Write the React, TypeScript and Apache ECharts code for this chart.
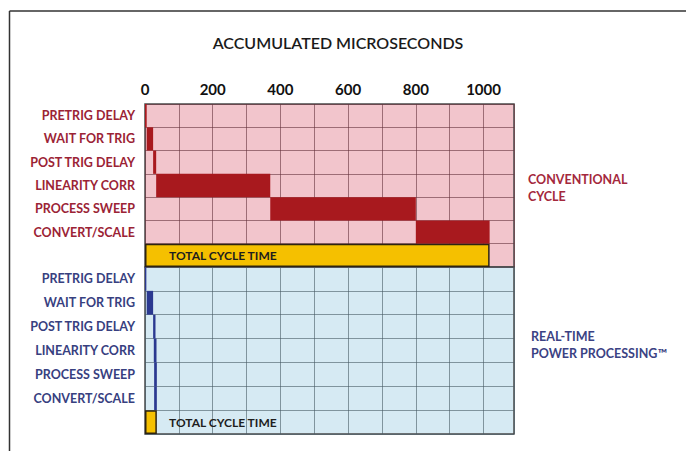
import React, { useEffect, useRef } from "react";
import * as echarts from "echarts";

const title = "ACCUMULATED MICROSECONDS";
const taskLabels = ["PRETRIG DELAY", "WAIT FOR TRIG", "POST TRIG DELAY", "LINEARITY CORR", "PROCESS SWEEP", "CONVERT/SCALE", ""];
const totalLabel = "TOTAL CYCLE TIME";
const xTicks = [0, 200, 400, 600, 800, 1000];
const xMax = 1090;
const xStep = 100;

// Conventional cycle: start / end in microseconds (last row = total)
const convStart = [0, 5, 24, 33, 370, 800, 0];
const convEnd = [5, 24, 33, 370, 800, 1018, 1018];
// Real-time power processing
const rtStart = [0, 5, 24, 26, 27, 27, 0];
const rtEnd = [4, 24, 31, 34, 35, 35, 35];

const convName = "CONVENTIONAL\nCYCLE";
const rtName = "REAL-TIME\nPOWER PROCESSING™";

const FONT = "Lato, 'Noto Sans', sans-serif";
const RED = "#a8191e";
const BLUE = "#2b3990";
const YELLOW = "#f5c000";

export default function App() {
  const ref = useRef<HTMLDivElement>(null);
  useEffect(() => {
    document.body.style.margin = "0";
    const chart = echarts.init(ref.current!, undefined, { renderer: "svg" });

    const mkBars = (starts: number[], ends: number[], color: string, idx: number, stack: string) => {
      const base = {
        type: "bar",
        xAxisIndex: idx,
        yAxisIndex: idx,
        stack,
        barCategoryGap: "0%",
        silent: true,
        itemStyle: { color: "transparent" },
        data: starts,
      };
      const vis = {
        type: "bar",
        xAxisIndex: idx,
        yAxisIndex: idx,
        stack,
        barCategoryGap: "0%",
        silent: true,
        data: ends.map((e, i) => {
          const isTotal = i === ends.length - 1;
          return {
            value: e - starts[i],
            itemStyle: isTotal
              ? { color: YELLOW, borderColor: "#2e2410", borderWidth: 1.5 }
              : { color },
            label: isTotal
              ? {
                  show: true,
                  formatter: totalLabel,
                  position: [24, "50%"],
                  verticalAlign: "middle",
                  align: "left",
                  color: "#1e1e1e",
                  fontFamily: FONT,
                  fontWeight: "bold",
                  fontSize: 12,
                }
              : { show: false },
          };
        }),
      };
      return [base, vis];
    };

    const xAxisBase = (idx: number, lineColor: string) => ({
      type: "value",
      gridIndex: idx,
      min: 0,
      max: xMax,
      interval: xStep,
      position: "top",
      axisLine: { show: false },
      axisTick: { show: false },
      splitLine: { show: true, lineStyle: { color: lineColor, width: 1 } },
      axisLabel:
        idx === 0
          ? {
              show: true,
              margin: 8,
              color: "#111",
              fontFamily: FONT,
              fontWeight: "bold",
              fontSize: 15,
              formatter: (v: number) => (xTicks.includes(v) ? String(v) : ""),
            }
          : { show: false },
    });

    const yAxisBase = (idx: number, labelColor: string, lineColor: string) => ({
      type: "category",
      gridIndex: idx,
      inverse: true,
      data: taskLabels,
      axisLine: { show: false },
      axisTick: { show: false },
      splitLine: { show: true, interval: 0, lineStyle: { color: lineColor, width: 1 } },
      axisLabel: {
        interval: 0,
        margin: 10,
        color: labelColor,
        fontFamily: FONT,
        fontWeight: "bold",
        fontSize: 12.5,
      },
    });

    chart.setOption({
      animation: false,
      grid: [
        { left: 145, top: 104, width: 369, height: 163, show: true, backgroundColor: "#f2c5cc", borderColor: "#4a4a4a", borderWidth: 1.5 },
        { left: 145, top: 267, width: 369, height: 167, show: true, backgroundColor: "#d6eaf3", borderColor: "#4a4a4a", borderWidth: 1.5 },
      ],
      xAxis: [xAxisBase(0, "rgba(100,50,60,0.6)"), xAxisBase(1, "rgba(70,90,100,0.6)")],
      yAxis: [yAxisBase(0, "#9b2335", "rgba(100,50,60,0.6)"), yAxisBase(1, "#37407f", "rgba(70,90,100,0.6)")],
      series: [...mkBars(convStart, convEnd, RED, 0, "conv"), ...mkBars(rtStart, rtEnd, BLUE, 1, "rt")],
      graphic: [
        { type: "line", shape: { x1: 9.5, y1: 11, x2: 686, y2: 11 }, style: { stroke: "#333", lineWidth: 1.5 } },
        { type: "line", shape: { x1: 9.5, y1: 11, x2: 9.5, y2: 451 }, style: { stroke: "#333", lineWidth: 1.5 } },
        {
          type: "text",
          x: 338,
          y: 42,
          style: { text: title, fill: "#1a1a1a", font: `600 16px ${FONT}`, align: "center", verticalAlign: "middle" },
        },
        {
          type: "text",
          x: 528,
          y: 171,
          style: { text: convName, fill: "#a4283c", font: `bold 12.5px ${FONT}`, lineHeight: 17, align: "left", verticalAlign: "top" },
        },
        {
          type: "text",
          x: 531,
          y: 328,
          style: { text: rtName, fill: "#3b4283", font: `bold 12.5px ${FONT}`, lineHeight: 17, align: "left", verticalAlign: "top" },
        },
      ],
    });
    return () => chart.dispose();
  }, []);
  return <div ref={ref} style={{ width: 686, height: 451 }} />;
}
